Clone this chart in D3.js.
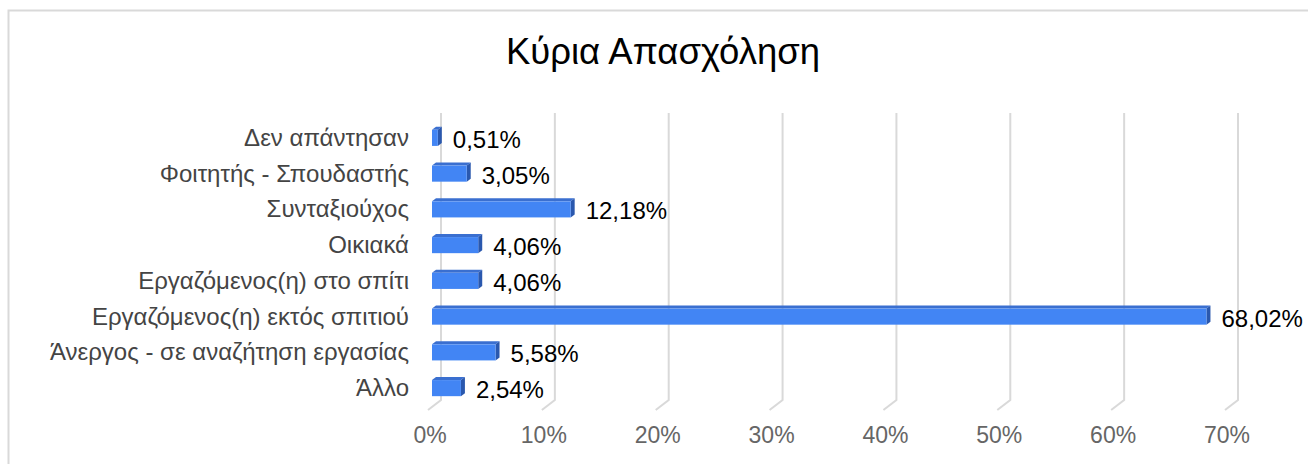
<!DOCTYPE html>
<html>
<head>
<meta charset="utf-8">
<script src="https://cdn.jsdelivr.net/npm/d3@7"></script>
<style>
  html, body { margin: 0; padding: 0; background: #fff; }
  svg { display: block; }
</style>
</head>
<body>
<svg id="chart" width="1308" height="464"></svg>
<script>
const title = "Κύρια Απασχόληση";

const categories = [
  "Δεν απάντησαν",
  "Φοιτητής - Σπουδαστής",
  "Συνταξιούχος",
  "Οικιακά",
  "Εργαζόμενος(η) στο σπίτι",
  "Εργαζόμενος(η) εκτός σπιτιού",
  "Άνεργος - σε αναζήτηση εργασίας",
  "Άλλο"
];

const values = [0.51, 3.05, 12.18, 4.06, 4.06, 68.02, 5.58, 2.54];

const ticks = [0, 10, 20, 30, 40, 50, 60, 70];

const data = categories.map((c, i) => ({ name: c, value: values[i] }));

// 3d look: bars sit a little in front of the back wall
const depth = { dx: -13, dy: 10 };   // floor: back wall -> front edge
const barDepth = { dx: 4, dy: -3 };  // top / side faces of the bars
const barShift = -9;                 // front face of bars relative to back wall

const svg = d3.select("#chart");

// frame
svg.append("rect")
  .attr("x", 8.5).attr("y", 10.5)
  .attr("width", 1330).attr("height", 480)
  .attr("fill", "#fff")
  .attr("stroke", "#d9d9d9")
  .attr("stroke-width", 2);

// title
svg.append("text")
  .attr("x", 663).attr("y", 64)
  .attr("text-anchor", "middle")
  .style("font-family", "'Liberation Sans', Arial, sans-serif")
  .style("font-size", "36.5px")
  .style("fill", "#000")
  .text(title);

const x = d3.scaleLinear().domain([0, 70]).range([441, 1238]);
const y = d3.scaleBand()
  .domain(categories)
  .range([120, 406])
  .paddingInner(0.55)
  .paddingOuter(0.275);

const gridTop = 113, gridBottom = 400;

// grid lines on back wall + floor
const grid = svg.append("g").attr("class", "grid");
grid.selectAll("path")
  .data(ticks)
  .enter()
  .append("path")
  .attr("d", t => `M${x(t)},${gridTop}V${gridBottom}l${depth.dx},${depth.dy}`)
  .attr("fill", "none")
  .attr("stroke", "#d9d9d9")
  .attr("stroke-width", 2);

// x tick labels
svg.append("g").selectAll("text")
  .data(ticks)
  .enter()
  .append("text")
  .attr("x", t => x(t) - 11)
  .attr("y", 443)
  .attr("text-anchor", "middle")
  .style("font-family", "'Liberation Sans', Arial, sans-serif")
  .style("font-size", "23px")
  .style("fill", "#666")
  .text(t => t + "%");

// category labels
svg.append("g").selectAll("text")
  .data(data)
  .enter()
  .append("text")
  .attr("x", 409)
  .attr("y", d => y(d.name) + y.bandwidth() / 2 + 8)
  .attr("text-anchor", "end")
  .style("font-family", "'Liberation Sans', Arial, sans-serif")
  .style("font-size", "24px")
  .style("fill", "#444")
  .text(d => d.name);

// bars
const bars = svg.append("g").attr("class", "bars")
  .selectAll("g")
  .data(data)
  .enter()
  .append("g");

const x0 = d => x(0) + barShift;
const x1 = d => x(d.value) + barShift;

// top face
bars.append("path")
  .attr("d", d => {
    const yt = y(d.name);
    return `M${x0(d)},${yt}L${x0(d) + barDepth.dx},${yt + barDepth.dy}` +
      `L${x1(d) + barDepth.dx},${yt + barDepth.dy}L${x1(d)},${yt}Z`;
  })
  .attr("fill", "#3a6fd0");

// side face
bars.append("path")
  .attr("d", d => {
    const yt = y(d.name), yb = yt + y.bandwidth();
    return `M${x1(d)},${yt}L${x1(d) + barDepth.dx},${yt + barDepth.dy}` +
      `L${x1(d) + barDepth.dx},${yb + barDepth.dy}L${x1(d)},${yb}Z`;
  })
  .attr("fill", "#2a58ae");

// front face
bars.append("rect")
  .attr("x", x0)
  .attr("y", d => y(d.name))
  .attr("width", d => x1(d) - x0(d))
  .attr("height", y.bandwidth())
  .attr("fill", "#4285f4");

// value labels
bars.append("text")
  .attr("x", d => x1(d) + 15)
  .attr("y", d => y(d.name) + y.bandwidth() / 2 + 10)
  .style("font-family", "'Liberation Sans', Arial, sans-serif")
  .style("font-size", "24px")
  .style("fill", "#000")
  .text(d => d.value.toFixed(2).replace(".", ",") + "%");
</script>
</body>
</html>
